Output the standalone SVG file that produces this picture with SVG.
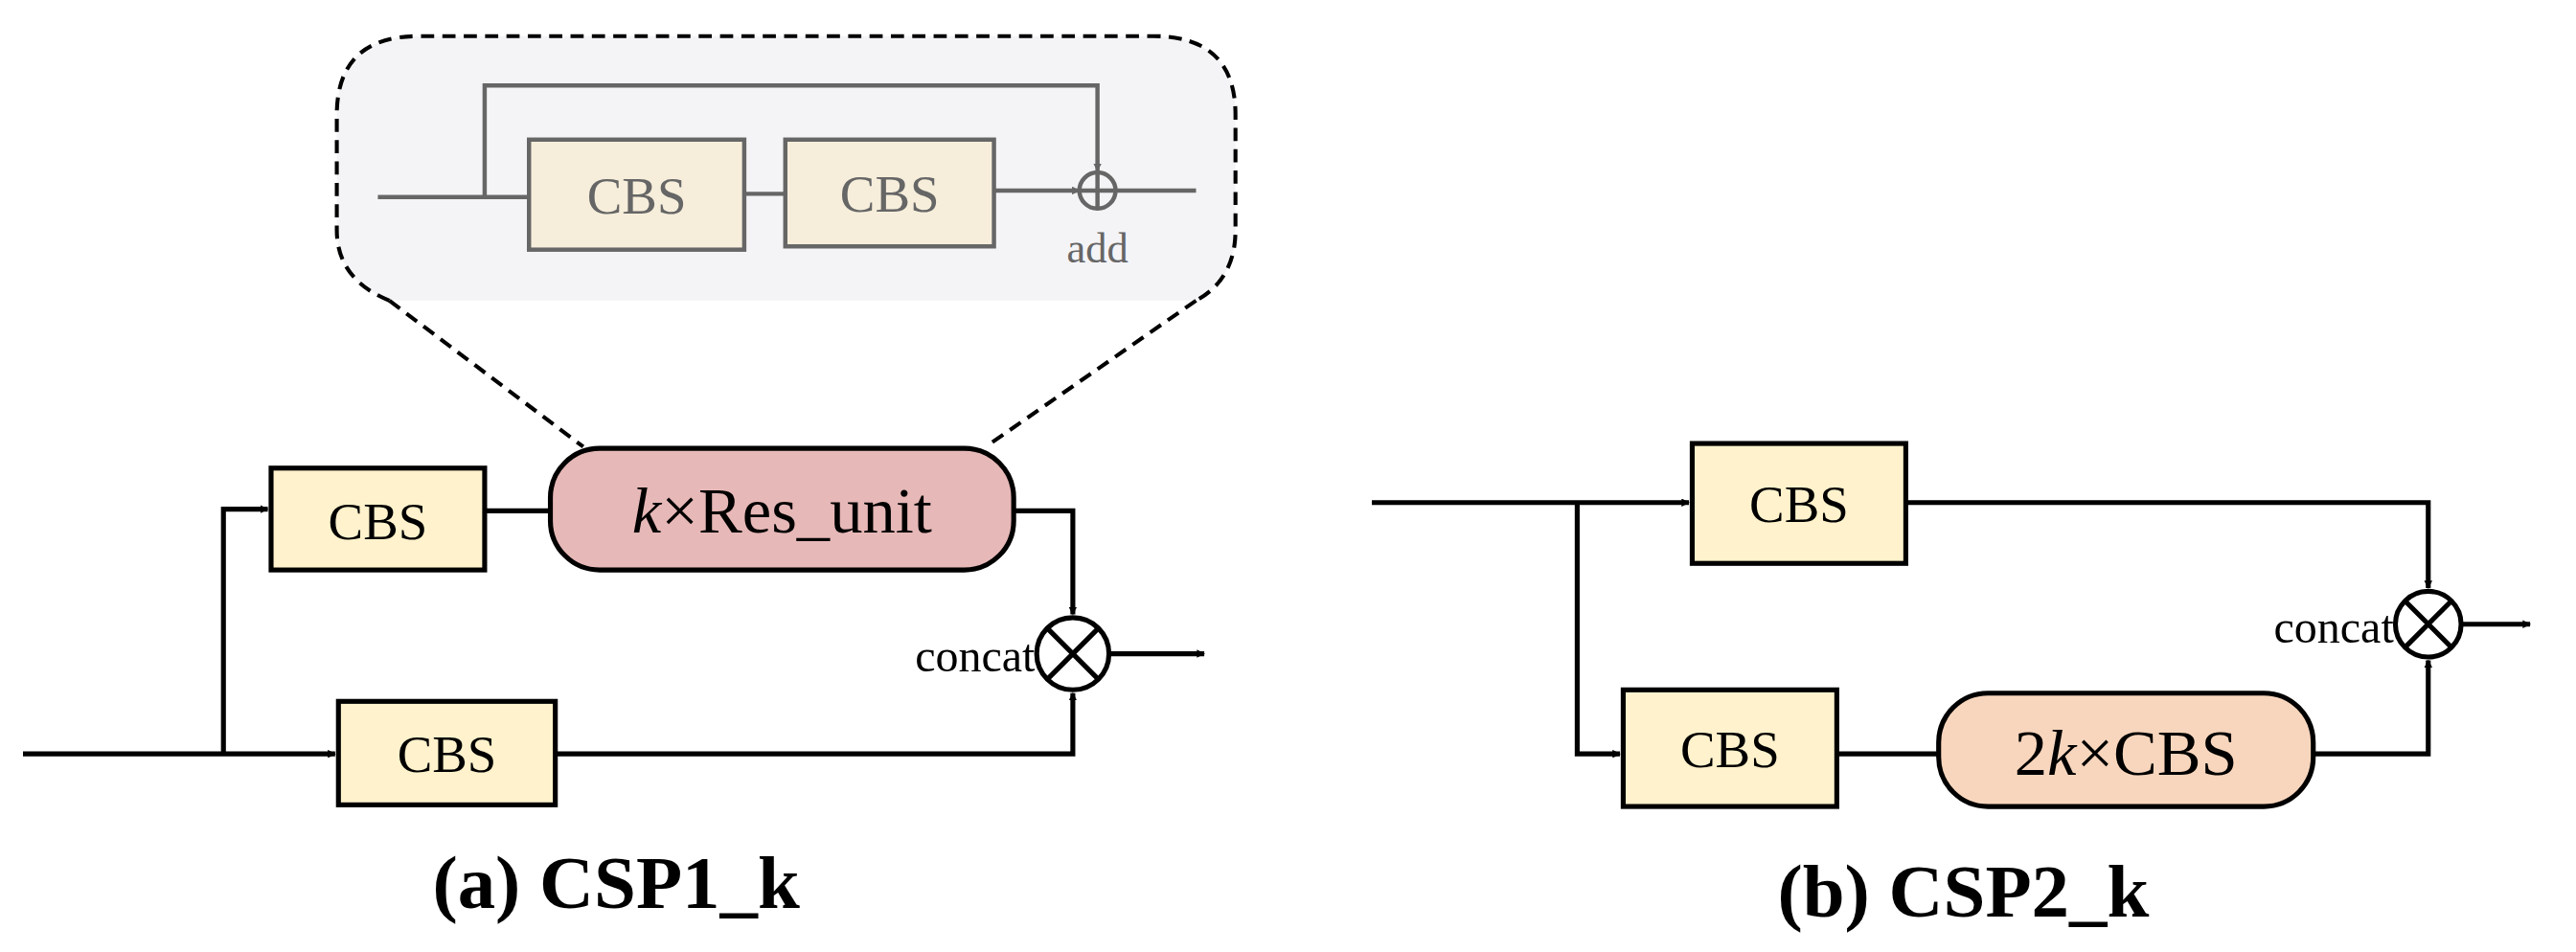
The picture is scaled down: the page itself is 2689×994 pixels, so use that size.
<svg xmlns="http://www.w3.org/2000/svg" width="2689" height="994" viewBox="0 0 2689 994">
<defs>
<marker id="ah" viewBox="0 0 10 10" refX="9" refY="5" markerWidth="5" markerHeight="5" orient="auto" markerUnits="userSpaceOnUse"><path d="M0,0 L10,5 L0,10 z" fill="#000"/></marker>
<marker id="ahg" viewBox="0 0 10 10" refX="9" refY="5" markerWidth="5" markerHeight="5" orient="auto" markerUnits="userSpaceOnUse"><path d="M0,0 L10,5 L0,10 z" fill="#666"/></marker>
<style>
.ln{fill:none;stroke:#000;stroke-width:3}
.gl{fill:none;stroke:#666;stroke-width:2.6}
.cbs{fill:#fff2cc;stroke:#000;stroke-width:3}
.gcbs{fill:#f6eedb;stroke:#666;stroke-width:2.6}
.t{font-family:"Liberation Serif",serif;text-anchor:middle}
</style>
</defs>
<rect width="2689" height="994" fill="#fff"/>
<g transform="scale(1.715)">
<g id="callout">
<path d="M237,183 Q205,170 205,140 L205,70 Q205,22 255,22 L702,22 Q752,22 752,70 L752,140 Q752,170 728,183 Z" fill="#f4f4f7" stroke="none"/>
<path d="M237,183 Q205,170 205,140 L205,70 Q205,22 255,22 L702,22 Q752,22 752,70 L752,140 Q752,170 728,183" fill="none" stroke="#000" stroke-width="2.4" stroke-dasharray="8,5"/>
<path d="M237,183 L355,272 M728,183 L600,272" fill="none" stroke="#000" stroke-width="2.4" stroke-dasharray="8,5"/>
<g id="res_inner">
<path class="gl" d="M230,120 L322,120 M295,120 L295,52 L668,52 L668,104" marker-end="url(#ahg)"/>
<path class="gl" d="M453,118 L478,118 M605,116 L657,116" marker-end="url(#ahg)"/>
<path class="gl" d="M679,116 L728,116"/>
<circle cx="668" cy="116" r="11" class="gl"/>
<path class="gl" d="M657,116 L679,116 M668,105 L668,127"/>
<rect x="322" y="85" width="131" height="67" class="gcbs"/>
<text x="387.5" y="130" class="t" font-size="32" fill="#666">CBS</text>
<rect x="478" y="85" width="127" height="65" class="gcbs"/>
<text x="541.5" y="129" class="t" font-size="32" fill="#666">CBS</text>
<text x="668" y="160" class="t" font-size="26" fill="#666">add</text>
</g>
</g>
<g id="connectors">
<path class="ln" d="M14,459 L204,459" marker-end="url(#ah)"/>
<path class="ln" d="M136,459 L136,310 L163,310" marker-end="url(#ah)"/>
<path class="ln" d="M295,311 L335,311"/>
<path class="ln" d="M617,311 L653,311 L653,374" marker-end="url(#ah)"/>
<path class="ln" d="M338,459 L653,459 L653,422" marker-end="url(#ah)"/>
<path class="ln" d="M675,398 L733,398" marker-end="url(#ah)"/>
<path class="ln" d="M835,306 L1028,306" marker-end="url(#ah)"/>
<path class="ln" d="M960,306 L960,459 L986,459" marker-end="url(#ah)"/>
<path class="ln" d="M1160,306 L1478,306 L1478,358" marker-end="url(#ah)"/>
<path class="ln" d="M1118,459 L1180,459"/>
<path class="ln" d="M1408,459 L1478,459 L1478,402" marker-end="url(#ah)"/>
<path class="ln" d="M1498,380 L1540,380" marker-end="url(#ah)"/>
</g>
<g id="a_cbs1"><rect x="165" y="285" width="130" height="62" class="cbs"/><text x="230" y="328" class="t" font-size="32">CBS</text></g>
<g id="a_res"><rect x="335" y="273" width="282" height="74" rx="30" fill="#e6b8b7" stroke="#000" stroke-width="3"/><text x="476" y="324" class="t" font-size="40"><tspan font-style="italic">k</tspan>×Res_unit</text></g>
<g id="a_cbs2"><rect x="206" y="427" width="132" height="63" class="cbs"/><text x="272" y="470" class="t" font-size="32">CBS</text></g>
<g id="a_concat"><circle cx="653" cy="398" r="22" fill="#fff" stroke="#000" stroke-width="3"/><path class="ln" d="M637.4,382.4 L668.6,413.6 M668.6,382.4 L637.4,413.6"/><text x="630" y="409" font-family="Liberation Serif,serif" font-size="28" text-anchor="end">concat</text></g>
<text x="375" y="553" class="t" font-size="46" font-weight="bold">(a) CSP1_k</text>
<g id="b_cbs1"><rect x="1030" y="270" width="130" height="73" class="cbs"/><text x="1095" y="318" class="t" font-size="32">CBS</text></g>
<g id="b_cbs2"><rect x="988" y="420" width="130" height="71" class="cbs"/><text x="1053" y="467" class="t" font-size="32">CBS</text></g>
<g id="b_2k"><rect x="1180" y="422" width="228" height="69" rx="30" fill="#f8d6bd" stroke="#000" stroke-width="3"/><text x="1294" y="472" class="t" font-size="40">2<tspan font-style="italic">k</tspan>×CBS</text></g>
<g id="b_concat"><circle cx="1478" cy="380" r="20" fill="#fff" stroke="#000" stroke-width="3"/><path class="ln" d="M1463.9,365.9 L1492.1,394.1 M1492.1,365.9 L1463.9,394.1"/><text x="1457" y="391" font-family="Liberation Serif,serif" font-size="28" text-anchor="end">concat</text></g>
<text x="1195" y="558" class="t" font-size="46" font-weight="bold">(b) CSP2_k</text>
</g>
</svg>
